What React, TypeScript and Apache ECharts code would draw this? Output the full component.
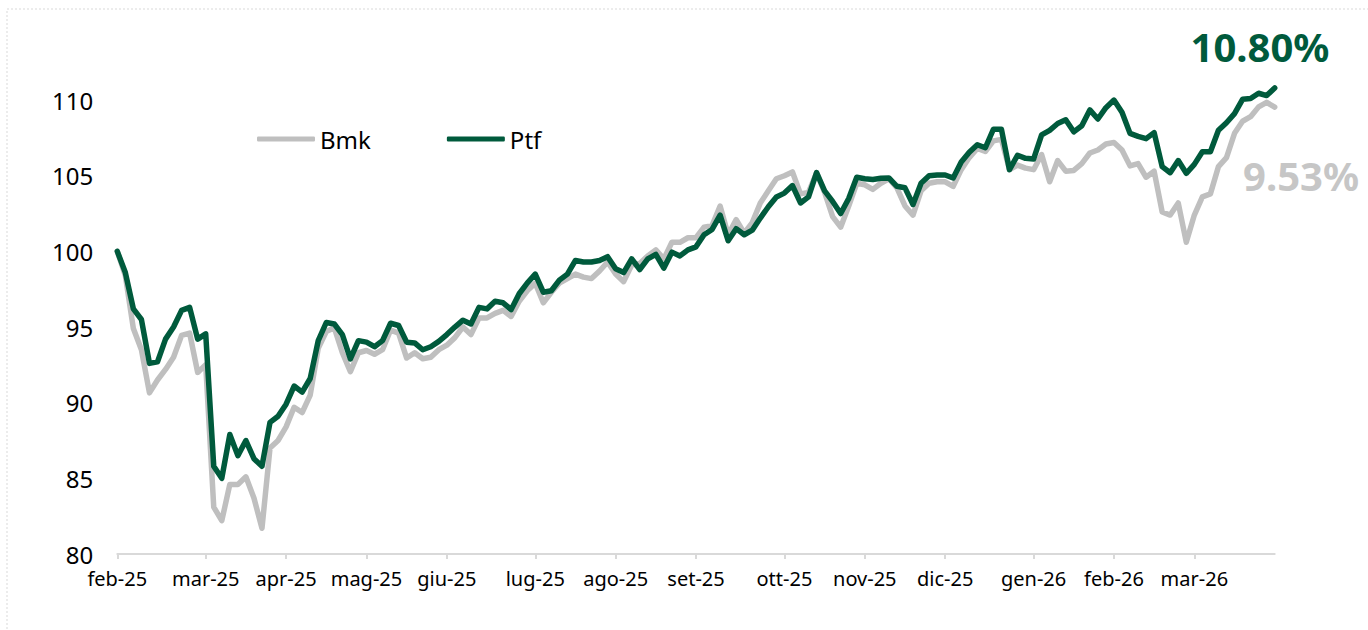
import React, { useEffect, useRef } from "react";
import * as echarts from "echarts";

const months = ["feb-25", "mar-25", "apr-25", "mag-25", "giu-25", "lug-25", "ago-25", "set-25", "ott-25", "nov-25", "dic-25", "gen-26", "feb-26", "mar-26"];
const monthStarts = [0, 11, 21, 31, 41, 52, 62, 72, 83, 93, 103, 114, 124, 134];

const ptf = [
  100.0, 98.6, 96.2, 95.5, 92.6, 92.7, 94.2, 95.0, 96.1, 96.3,
  94.2, 94.55, 85.8, 85.0, 87.9, 86.5, 87.5, 86.3, 85.8, 88.7,
  89.1, 89.9, 91.1, 90.7, 91.6, 94.1, 95.3, 95.2, 94.5, 92.9,
  94.1, 94.0, 93.7, 94.1, 95.25, 95.1, 94.0, 93.95, 93.5, 93.7,
  94.05, 94.5, 95.0, 95.45, 95.2, 96.3, 96.2, 96.7, 96.6, 96.15,
  97.2, 97.9, 98.5, 97.3, 97.4, 98.1, 98.5, 99.4, 99.3, 99.3,
  99.4, 99.65, 98.85, 98.6, 99.5, 98.8, 99.5, 99.8, 98.9, 99.95,
  99.7, 100.1, 100.3, 101.1, 101.45, 102.4, 100.7, 101.5, 101.1, 101.4,
  102.2, 102.95, 103.6, 103.85, 104.35, 103.2, 103.6, 105.2, 104.0, 103.3,
  102.5, 103.5, 104.9, 104.8, 104.75, 104.83, 104.85, 104.3, 104.2, 103.1,
  104.5, 105.0, 105.05, 105.05, 104.85, 105.9, 106.55, 107.05, 106.85, 108.07,
  108.07, 105.4, 106.35, 106.15, 106.1, 107.7, 108.0, 108.45, 108.7, 107.9,
  108.3, 109.35, 108.75, 109.5, 110.0, 109.2, 107.8, 107.6, 107.45, 107.85,
  105.6, 105.2, 106.0, 105.16, 105.75, 106.59, 106.59, 108.0, 108.5, 109.1,
  110.05, 110.1, 110.45, 110.3, 110.8,
];

const bmk = [
  100.0, 98.4, 94.9, 93.5, 90.65, 91.5, 92.2, 93.0, 94.45, 94.6,
  92.0, 92.5, 83.1, 82.2, 84.6, 84.6, 85.1, 83.7, 81.7, 87.0,
  87.5, 88.4, 89.7, 89.35, 90.5, 93.6, 94.7, 94.95, 93.3, 92.05,
  93.3, 93.45, 93.2, 93.5, 94.8, 94.6, 92.95, 93.3, 92.9, 93.0,
  93.5, 93.8, 94.3, 95.0, 94.5, 95.6, 95.6, 95.9, 96.1, 95.7,
  96.7, 97.4, 97.9, 96.6, 97.3, 97.9, 98.2, 98.5, 98.3, 98.2,
  98.7, 99.3, 98.5, 98.0, 99.1, 99.2, 99.7, 100.1, 99.5, 100.6,
  100.6, 100.9, 100.9, 101.6, 101.7, 103.0, 101.1, 102.1, 101.2, 101.9,
  103.2, 104.0, 104.8, 105.0, 105.25, 103.8, 103.9, 105.2, 103.9, 102.3,
  101.6, 103.0, 104.5, 104.4, 104.1, 104.5, 104.8, 104.2, 103.0, 102.4,
  104.0, 104.5, 104.6, 104.6, 104.3, 105.4, 106.2, 106.8, 106.6, 107.3,
  107.4, 105.4, 105.7, 105.5, 105.4, 106.4, 104.6, 106.0, 105.3, 105.35,
  105.8, 106.5, 106.7, 107.1, 107.2, 106.7, 105.65, 105.8, 104.9, 105.3,
  102.6, 102.4, 103.2, 100.6, 102.4, 103.6, 103.8, 105.6, 106.2, 107.8,
  108.6, 108.9, 109.55, 109.85, 109.53,
];

const seriesNames = ["Bmk", "Ptf"];
const GREEN = "#005A3C";
const GREY = "#BFBFBF";
const FONT = '"Noto Sans", sans-serif';

function buildCategories(): string[] {
  const cats: string[] = [];
  for (let i = 0; i < ptf.length; i++) {
    let m = 0;
    for (let k = 0; k < monthStarts.length; k++) if (monthStarts[k] <= i) m = k;
    cats.push(i === monthStarts[m] ? months[m] : `${months[m]} ${i - monthStarts[m] + 1}`);
  }
  return cats;
}

export default function App() {
  const ref = useRef<HTMLDivElement>(null);
  useEffect(() => {
    if (!ref.current) return;
    const chart = echarts.init(ref.current, null, { renderer: "svg" });
    const cats = buildCategories();
    const isStart = (idx: number) => monthStarts.indexOf(idx) >= 0;
    const ptfRet = (ptf[ptf.length - 1] - 100).toFixed(2) + "%";
    const bmkRet = (bmk[bmk.length - 1] - 100).toFixed(2) + "%";
    chart.setOption({
      animation: false,
      backgroundColor: "#ffffff",
      grid: { left: 117.3, right: 93.3, top: 69.8, bottom: 76 },
      legend: {
        data: seriesNames.map((n) => ({ name: n, icon: "roundRect" })),
        left: 252,
        top: 122,
        itemWidth: 58,
        itemHeight: 5,
        itemGap: 76,
        textStyle: { fontSize: 24, color: "#000", fontFamily: FONT },
      },
      xAxis: {
        type: "category",
        data: cats,
        boundaryGap: false,
        axisLine: { lineStyle: { color: "#D9D9D9", width: 2 } },
        axisTick: { interval: (i: number) => isStart(i), length: 5, lineStyle: { color: "#D9D9D9", width: 2 } },
        axisLabel: {
          interval: (i: number) => isStart(i),
          formatter: (v: string) => v.split(" ")[0],
          fontSize: 20,
          color: "#000",
          fontFamily: FONT,
          margin: 14,
        },
        splitLine: { show: false },
      },
      yAxis: {
        type: "value",
        min: 80,
        max: 112,
        interval: 5,
        axisLine: { show: false },
        axisTick: { show: false },
        splitLine: { show: false },
        axisLabel: { fontSize: 24, color: "#000", fontFamily: FONT, margin: 24, showMaxLabel: false },
      },
      series: [
        {
          name: "Bmk",
          type: "line",
          data: bmk,
          symbol: "none",
          color: GREY,
          lineStyle: { color: GREY, width: 5.5, cap: "round", join: "round" },
          z: 2,
        },
        {
          name: "Ptf",
          type: "line",
          data: ptf,
          symbol: "none",
          color: GREEN,
          lineStyle: { color: GREEN, width: 5.5, cap: "round", join: "round" },
          z: 3,
        },
      ],
      graphic: [
        {
          type: "rect",
          shape: { x: 7, y: 9, width: 1400, height: 700 },
          style: { fill: "none", stroke: "#D9D9D9", lineWidth: 1, lineDash: [2, 2] },
          z: -1,
          silent: true,
        },
        {
          type: "text",
          x: 1260,
          y: 46,
          style: { text: ptfRet, font: `bold 40px ${FONT}`, fill: GREEN, textAlign: "center", textVerticalAlign: "middle" },
        },
        {
          type: "text",
          x: 1301,
          y: 175,
          style: { text: bmkRet, font: `bold 40px ${FONT}`, fill: "#C6C6C6", textAlign: "center", textVerticalAlign: "middle" },
        },
      ],
    });
    return () => chart.dispose();
  }, []);
  return <div ref={ref} style={{ position: "absolute", left: 0, top: 0, width: 1368, height: 630 }} />;
}
